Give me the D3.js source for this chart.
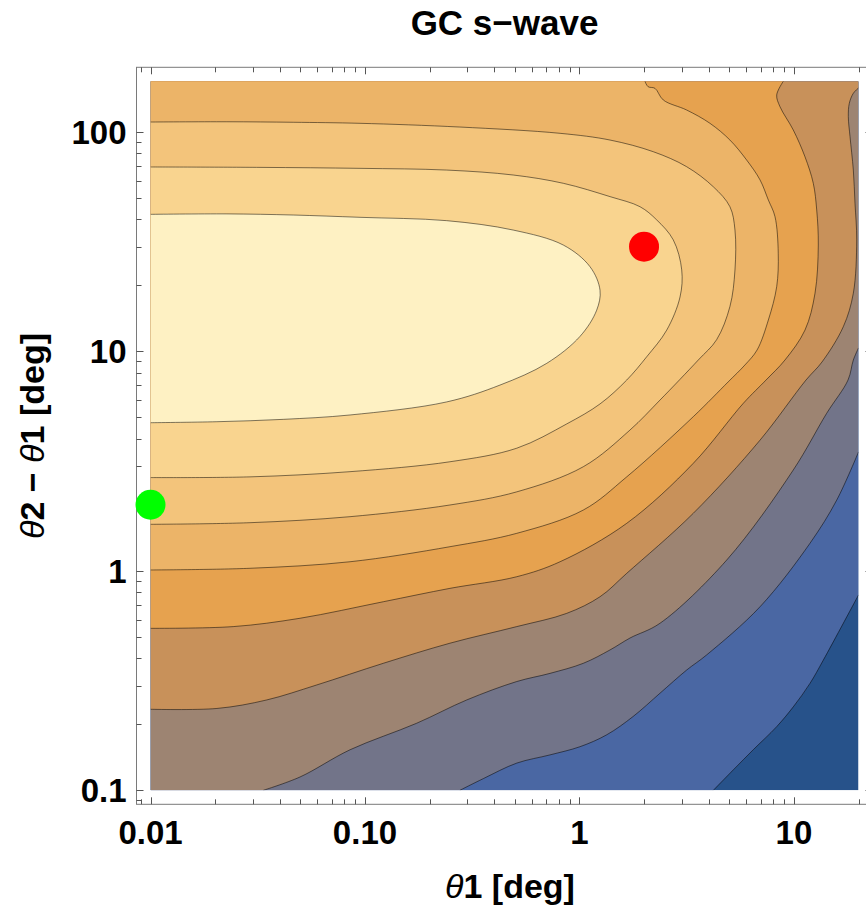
<!DOCTYPE html>
<html>
<head>
<meta charset="utf-8">
<script src="https://cdn.jsdelivr.net/npm/d3@7"></script>
<style>
  body { margin: 0; background: #fff; }
  svg { display: block; font-family: 'Liberation Sans', Arial, sans-serif; }
</style>
</head>
<body>
<script>
// plot ranges (deg)
var thetaRange = [0.01, 20];
var deltaRange = [0.1, 170];

var xTickValues = [0.01, 0.1, 1, 10];
var xTickLabels = ['0.01', '0.10', '1', '10'];
var yTickValues = [0.1, 1, 10, 100];
var yTickLabels = ['0.1', '1', '10', '100'];

// fill colours, lowest band first
var bandColors = ['#27528a', '#4a67a3', '#727489', '#9d8472', '#c8915a',
                  '#e6a24f', '#ecb468', '#f3c47b', '#f9d48f', '#fef1c3'];

// contour lines as [theta1, theta2 - theta1], lowest level first
var contour1 = [[20,0.776],[13.71,0.392],[11.88,0.307],[9.93,0.240],[8.31,0.195],[6.46,0.153],[5.22,0.124],[4.21,0.1]];
var contour2 = [[20,3.48],[15.83,2.10],[11.88,1.335],[6.95,0.686],[3.92,0.414],[3.16,0.353],[2.375,0.277],[1.78,0.217],
                [1.34,0.179],[1.006,0.158],[0.729,0.145],[0.510,0.133],[0.356,0.113],[0.277,0.1]];
var contour3 = [[20,10.36],[18.92,9.13],[17.87,7.40],[14.21,5.22],[9.93,2.88],[4.86,1.12],[2.375,0.577],[1.72,0.494],
                [1.388,0.436],[1.042,0.379],[0.729,0.341],[0.510,0.313],[0.298,0.258],[0.174,0.202],[0.0852,0.153],
                [0.0498,0.115],[0.0336,0.1]];
var contour4 = [[20,158.5],[18.92,149.9],[18.12,134.9],[17.93,117.3],[18.26,95.1],[18.92,67.0],[19.26,47.3],[19.62,32.2],
                [18.92,18.4],[16.99,12.95],[13.51,8.94],[11.38,7.40],[6.95,3.94],[3.395,1.829],[1.661,0.974],[1.247,0.762],
                [0.872,0.640],[0.510,0.557],[0.249,0.468],[0.1217,0.379],[0.0596,0.302],[0.0348,0.258],[0.0204,0.236],[0.01,0.234]];
var contour5 = [[8.92,170],[8.31,147.2],[8.61,130.2],[9.93,102.0],[11.26,77.0],[12.31,58.3],[12.77,44.1],[12.99,30.5],
                [12.54,18.4],[11.26,12.5],[9.08,9.13],[7.41,7.40],[5.81,5.80],[3.395,3.09],[1.661,1.646],[0.812,1.100],
                [0.510,0.940],[0.249,0.832],[0.1217,0.723],[0.0498,0.608],[0.0243,0.557],[0.01,0.547]];
var contour6 = [[2.02,170],[2.09,160.6],[2.25,157.9],[2.46,139.7],[3.16,125.8],[4.06,109.4],[5.03,91.8],[6.02,74.4],
                [6.95,60.4],[7.60,48.9],[8.16,41.1],[8.45,28.0],[8.31,19.7],[7.60,13.9],[6.73,10.14],[5.91,8.67],[4.93,7.25],
                [3.395,5.04],[1.661,2.68],[1.042,1.892],[0.510,1.482],[0.249,1.288],[0.0852,1.100],[0.0291,1.027],[0.01,1.009]];
var contour7 = [[0.01,110.9],[0.0227,111.2],[0.0463,110.6],[0.0948,109.4],[0.277,105.2],[0.812,98.5],[1.388,91.8],[2.21,81.2],
                [3.16,69.4],[4.21,56.2],[5.03,45.6],[5.31,35.7],[5.31,23.5],[5.03,16.0],[4.36,11.3],[3.58,9.13],[2.375,6.00],
                [1.72,4.38],[1.042,2.98],[0.510,2.29],[0.249,1.995],[0.0852,1.765],[0.0291,1.657],[0.01,1.629]];
var contour8 = [[0.01,69.2],[0.0324,68.9],[0.0948,68.2],[0.240,67.0],[0.491,63.6],[0.841,58.3],[1.388,50.7],[1.916,45.6],
                [2.292,39.7],[2.738,32.2],[2.998,23.5],[2.944,17.7],[2.552,12.5],[2.059,9.45],[1.661,7.40],[1.247,5.76],
                [0.872,4.67],[0.510,3.62],[0.249,3.14],[0.0852,2.83],[0.0291,2.68],[0.01,2.66]];
var contour9 = [[0.01,42.1],[0.0227,42.3],[0.0463,41.8],[0.0948,40.8],[0.240,39.4],[0.491,35.7],[0.841,30.5],[1.12,24.3],
                [1.247,19.0],[1.203,15.4],[1.006,11.7],[0.704,8.82],[0.426,7.02],[0.240,5.88],[0.0852,5.13],[0.0416,4.90],
                [0.0204,4.78],[0.01,4.73]];

var redPoint = [2, 30];
var greenPoint = [0.01, 2];

var contours = [contour1, contour2, contour3, contour4, contour5, contour6, contour7, contour8, contour9];

var width = 866, height = 909;
var plot = {left: 150.5, right: 858.5, top: 81.3, bottom: 790.3};
var pad = 14;

var svg = d3.select('body').append('svg')
    .attr('width', width)
    .attr('height', height);

var x = d3.scaleLog().domain(thetaRange).range([plot.left, plot.right]);
var y = d3.scaleLog().domain(deltaRange).range([plot.bottom, plot.top]);

svg.append('clipPath').attr('id', 'plot-clip')
    .append('rect')
    .attr('x', plot.left).attr('y', plot.top)
    .attr('width', plot.right - plot.left)
    .attr('height', plot.bottom - plot.top);

var g = svg.append('g').attr('clip-path', 'url(#plot-clip)');

var line = d3.line()
    .x(function (d) { return x(d[0]); })
    .y(function (d) { return y(d[1]); })
    .curve(d3.curveCatmullRom.alpha(0.5));

// position of a boundary point going clockwise round the plot rectangle
var W = plot.right - plot.left, H = plot.bottom - plot.top, P = 2 * W + 2 * H;
function edgePos(px, py) {
    if (Math.abs(py - plot.top) < 1) return px - plot.left;
    if (Math.abs(px - plot.right) < 1) return W + (py - plot.top);
    if (Math.abs(py - plot.bottom) < 1) return W + H + (plot.right - px);
    return 2 * W + H + (plot.bottom - py);
}
var corners = [
    {t: W, p: [plot.right, plot.top]},
    {t: W + H, p: [plot.right, plot.bottom]},
    {t: 2 * W + H, p: [plot.left, plot.bottom]},
    {t: P, p: [plot.left, plot.top]}
];

// region above a contour level: the line, then round the border back to its start
function regionPath(pts) {
    var a = pts[0], b = pts[pts.length - 1];
    var tStart = edgePos(x(a[0]), y(a[1]));
    var tEnd = edgePos(x(b[0]), y(b[1]));
    if (tStart < tEnd) tStart += P;
    var path = line(pts);
    [0, P].forEach(function (off) {
        corners.forEach(function (c) {
            var t = c.t + off;
            if (t > tEnd && t < tStart) path += 'L' + c.p[0] + ',' + c.p[1];
        });
    });
    return path + 'Z';
}

g.append('rect')
    .attr('x', plot.left).attr('y', plot.top)
    .attr('width', W).attr('height', H)
    .attr('fill', bandColors[0]);

g.selectAll('path.band')
    .data(contours)
    .enter()
    .append('path')
    .attr('class', 'band')
    .attr('d', regionPath)
    .attr('fill', function (d, i) { return bandColors[i + 1]; });

g.selectAll('path.contour')
    .data(contours)
    .enter()
    .append('path')
    .attr('class', 'contour')
    .attr('d', line)
    .attr('fill', 'none')
    .attr('stroke', '#000')
    .attr('stroke-opacity', 0.5)
    .attr('stroke-width', 1);

// frame with ticks on all four sides
var frame = {left: plot.left - pad, right: plot.right + pad, top: plot.top - pad, bottom: plot.bottom + pad};
var xf = x.copy().domain([x.invert(frame.left), x.invert(frame.right)]).range([frame.left, frame.right]);
var yf = y.copy().domain([y.invert(frame.bottom), y.invert(frame.top)]).range([frame.bottom, frame.top]);

function isMajor(v) {
    var l = Math.log10(v);
    return Math.abs(l - Math.round(l)) < 1e-6;
}

var axes = svg.append('g').attr('stroke', '#555').attr('stroke-width', 1);

axes.append('rect')
    .attr('x', frame.left).attr('y', frame.top)
    .attr('width', frame.right - frame.left)
    .attr('height', frame.bottom - frame.top)
    .attr('fill', 'none')
    .attr('stroke', '#7a7a7a');

xf.ticks().forEach(function (v) {
    var px = Math.round(xf(v)) + 0.5, len = isMajor(v) ? 7 : 5;
    axes.append('line').attr('x1', px).attr('x2', px).attr('y1', frame.bottom).attr('y2', frame.bottom - len);
    axes.append('line').attr('x1', px).attr('x2', px).attr('y1', frame.top).attr('y2', frame.top + len);
});
yf.ticks().forEach(function (v) {
    var py = Math.round(yf(v)) + 0.5, len = isMajor(v) ? 7 : 5;
    axes.append('line').attr('y1', py).attr('y2', py).attr('x1', frame.left).attr('x2', frame.left + len);
    axes.append('line').attr('y1', py).attr('y2', py).attr('x1', frame.right).attr('x2', frame.right - len);
});

svg.selectAll('text.xtick')
    .data(xTickValues)
    .enter()
    .append('text')
    .attr('class', 'xtick')
    .attr('x', function (d) { return x(d); })
    .attr('y', frame.bottom + 40)
    .attr('text-anchor', 'middle')
    .attr('font-size', '33px')
    .attr('font-weight', 'bold')
    .text(function (d, i) { return xTickLabels[i]; });

svg.selectAll('text.ytick')
    .data(yTickValues)
    .enter()
    .append('text')
    .attr('class', 'ytick')
    .attr('x', frame.left - 10)
    .attr('y', function (d) { return y(d) + 12; })
    .attr('text-anchor', 'end')
    .attr('font-size', '33px')
    .attr('font-weight', 'bold')
    .text(function (d, i) { return yTickLabels[i]; });

// markers
svg.append('circle')
    .attr('cx', x(redPoint[0])).attr('cy', y(redPoint[1]))
    .attr('r', 15).attr('fill', '#ff0000');
svg.append('circle')
    .attr('cx', x(greenPoint[0])).attr('cy', y(greenPoint[1]))
    .attr('r', 15).attr('fill', '#00ff00');

// titles
svg.append('text')
    .attr('x', (frame.left + frame.right) / 2)
    .attr('y', 35)
    .attr('text-anchor', 'middle')
    .attr('font-size', '35px')
    .attr('font-weight', 'bold')
    .text('GC s\u2212wave');

var xLabel = svg.append('text')
    .attr('x', 510)
    .attr('y', 898)
    .attr('text-anchor', 'middle')
    .attr('font-size', '34px')
    .attr('font-weight', 'bold');
xLabel.append('tspan').attr('font-style', 'italic').attr('font-weight', 'normal').text('\u03b8');
xLabel.append('tspan').text('1 [deg]');

var yLabel = svg.append('text')
    .attr('transform', 'translate(44,436) rotate(-90)')
    .attr('text-anchor', 'middle')
    .attr('font-size', '34px')
    .attr('font-weight', 'bold');
yLabel.append('tspan').attr('font-style', 'italic').attr('font-weight', 'normal').text('\u03b8');
yLabel.append('tspan').text('2 \u2212 ');
yLabel.append('tspan').attr('font-style', 'italic').attr('font-weight', 'normal').text('\u03b8');
yLabel.append('tspan').text('1 [deg]');
</script>
</body>
</html>
